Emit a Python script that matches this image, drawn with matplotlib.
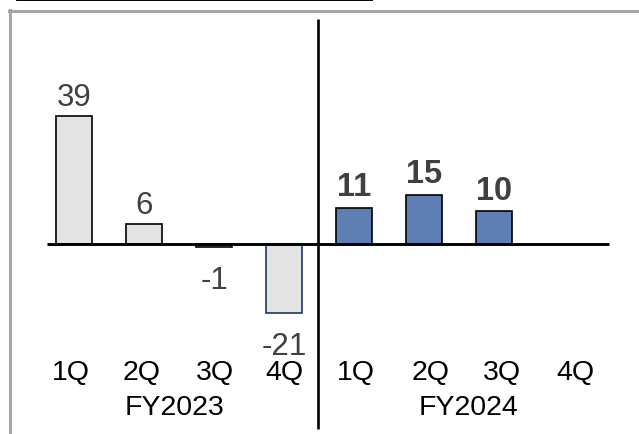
import matplotlib
matplotlib.use("Agg")
import matplotlib.pyplot as plt
from matplotlib.lines import Line2D

plt.rcParams['font.family'] = ['Liberation Sans', 'DejaVu Sans']

# Quarterly figures
quarters = ["1Q", "2Q", "3Q", "4Q"]
fy2023_values = [39, 6, -1, -21]
fy2024_values = [11, 15, 10]
year_labels = ["FY2023", "FY2024"]

W, H, DPI = 639, 435, 100
fig = plt.figure(figsize=(W / DPI, H / DPI), dpi=DPI)
ax = fig.add_axes([0, 0, 1, 1])

# data scale: 70 px per quarter slot, ~3.27 px per unit
px_per_x = 70.0
px_per_y = 3.27
x0_px, y0_px = 74.0, 245.0
ax.set_xlim(-x0_px / px_per_x, (W - x0_px) / px_per_x)
ax.set_ylim((y0_px - H) / px_per_y, y0_px / px_per_y)
ax.axis("off")

grey_fill = "#e3e3e3"
blue_fill = "#5f7eb4"
label_grey = "#404040"
bar_w = 0.52

x23 = list(range(len(fy2023_values)))
x24 = [len(quarters) + i for i in range(len(fy2024_values))]

edges23 = ["black", "black", "black", "#1f3864"]
ax.bar(x23, fy2023_values, width=bar_w, color=grey_fill,
       edgecolor=edges23, linewidth=1.2, zorder=2)
ax.bar(x24, fy2024_values, width=bar_w, color=blue_fill,
       edgecolor="black", linewidth=1.2, zorder=2)

# value labels
for x, v in zip(x23, fy2023_values):
    if v >= 0:
        ax.annotate(f"{v}", (x, v), xytext=(0, 3), textcoords="offset points",
                    ha="center", va="bottom", fontsize=22.5, color=label_grey)
    else:
        ax.annotate(f"{v}", (x, v), xytext=(0, -13), textcoords="offset points",
                    ha="center", va="top", fontsize=22.5, color=label_grey)
for x, v in zip(x24, fy2024_values):
    ax.annotate(f"{v}", (x, v), xytext=(0, 4), textcoords="offset points",
                ha="center", va="bottom", fontsize=23.5, fontweight="bold",
                color=label_grey)

# zero baseline and fiscal-year divider
ax.plot([-0.386, 7.64], [0, 0], color="black", lw=2.1, zorder=3,
        solid_capstyle="butt")
div_x = (x23[-1] + x24[0]) / 2 - 0.01
ax.plot([div_x, div_x], [(y0_px - 430) / px_per_y, (y0_px - 20) / px_per_y],
        color="black", lw=1.9, zorder=3, solid_capstyle="butt")

# quarter and year labels
q_y = (y0_px - 373) / px_per_y
yr_y = (y0_px - 408) / px_per_y
pos23 = [-0.04, 0.97, 2.01, 3.01]
pos24 = [4.03, 5.1, 6.11, 7.17]
for p, q in zip(pos23, quarters):
    ax.text(p, q_y, q, ha="center", va="center", fontsize=20.5, color="black")
for p, q in zip(pos24, quarters):
    ax.text(p, q_y, q, ha="center", va="center", fontsize=20.5, color="black")
ax.text(1.44, yr_y, year_labels[0], ha="center", va="center",
        fontsize=20.5, color="black")
ax.text(5.63, yr_y, year_labels[1], ha="center", va="center",
        fontsize=20.5, color="black")

# panel frame (left and top) and header underline
frame = "#a6a6a6"
fig.add_artist(Line2D([9.5 / W, 9.5 / W], [0, 1 - 11 / H], color=frame,
                      lw=2.2, transform=fig.transFigure))
fig.add_artist(Line2D([8.5 / W, 1], [1 - 11.5 / H, 1 - 11.5 / H], color=frame,
                      lw=2.2, transform=fig.transFigure))
fig.add_artist(Line2D([17 / W, 372 / W], [1 - 0.8 / H, 1 - 0.8 / H],
                      color="black", lw=1.4, transform=fig.transFigure))

fig.savefig("out.png", dpi=DPI)
